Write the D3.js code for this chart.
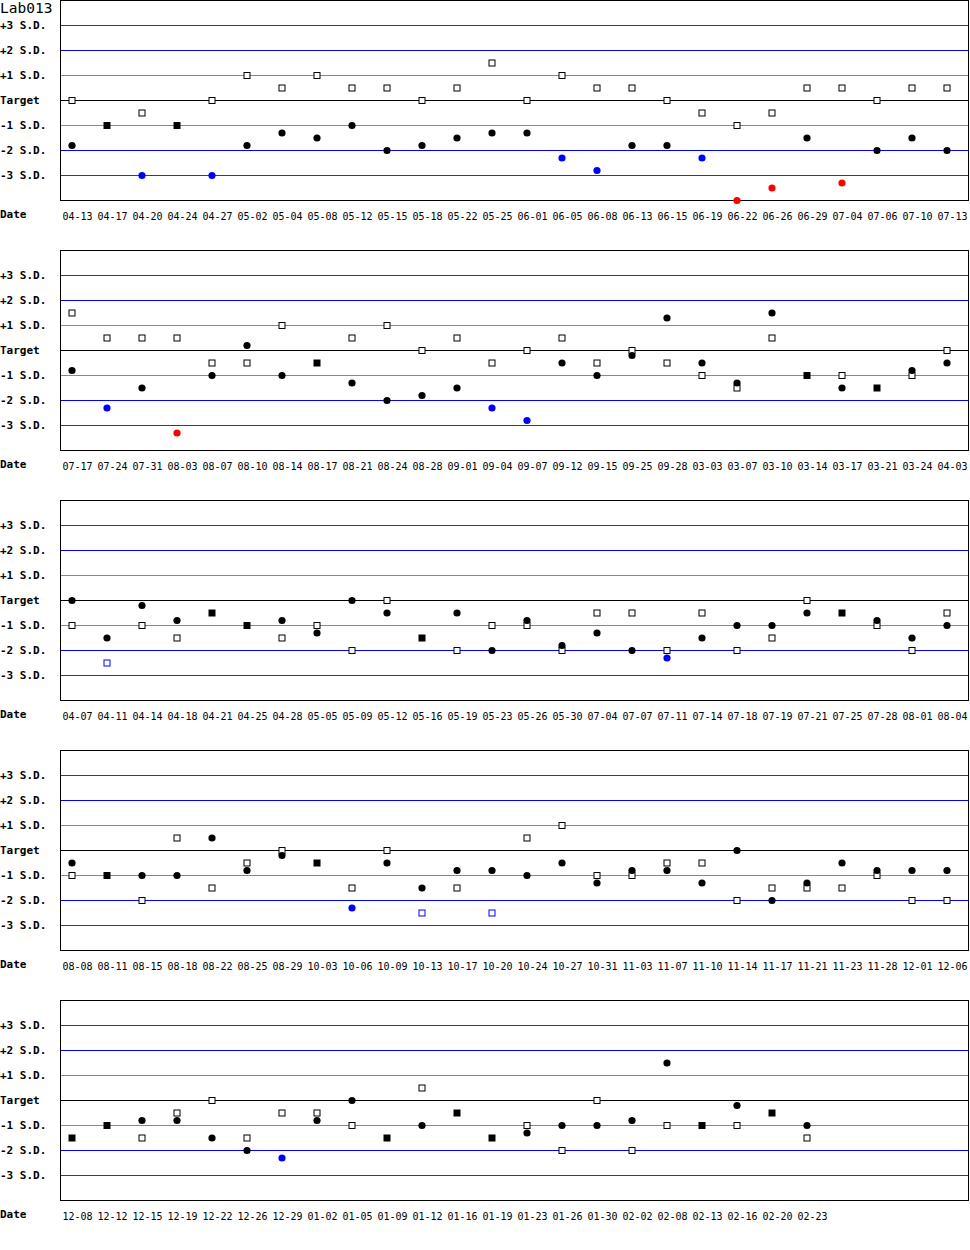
<!DOCTYPE html>
<html>
<head>
<meta charset="utf-8">
<script src="https://cdn.jsdelivr.net/npm/d3@7"></script>
<style>
  body { margin: 0; background: #fff; }
  svg { display: block; }
  text { font-family: "DejaVu Sans Mono", monospace; }
</style>
</head>
<body>
<div id="chart"></div>
<script>
// QC chart data, 26 runs per panel
const title = 'Lab013';
const perPanel = 26;

const dates = [
  '04-13','04-17','04-20','04-24','04-27','05-02','05-04','05-08','05-12','05-15','05-18','05-22','05-25','06-01','06-05','06-08','06-13','06-15','06-19','06-22','06-26','06-29','07-04','07-06','07-10','07-13',
  '07-17','07-24','07-31','08-03','08-07','08-10','08-14','08-17','08-21','08-24','08-28','09-01','09-04','09-07','09-12','09-15','09-25','09-28','03-03','03-07','03-10','03-14','03-17','03-21','03-24','04-03',
  '04-07','04-11','04-14','04-18','04-21','04-25','04-28','05-05','05-09','05-12','05-16','05-19','05-23','05-26','05-30','07-04','07-07','07-11','07-14','07-18','07-19','07-21','07-25','07-28','08-01','08-04',
  '08-08','08-11','08-15','08-18','08-22','08-25','08-29','10-03','10-06','10-09','10-13','10-17','10-20','10-24','10-27','10-31','11-03','11-07','11-10','11-14','11-17','11-21','11-23','11-28','12-01','12-06',
  '12-08','12-12','12-15','12-19','12-22','12-26','12-29','01-02','01-05','01-09','01-12','01-16','01-19','01-23','01-26','01-30','02-02','02-08','02-13','02-16','02-20','02-23'
];

// control level drawn as open squares (in S.D. from target)
const squareSD = [
  0,-1,-0.5,-1,0,1,0.5,1,0.5,0.5,0,0.5,1.5,0,1,0.5,0.5,0,-0.5,-1,-0.5,0.5,0.5,0,0.5,0.5,
  1.5,0.5,0.5,0.5,-0.5,-0.5,1,-0.5,0.5,1,0,0.5,-0.5,0,0.5,-0.5,0,-0.5,-1,-1.5,0.5,-1,-1,-1.5,-1,0,
  -1,-2.5,-1,-1.5,-0.5,-1,-1.5,-1,-2,0,-1.5,-2,-1,-1,-2,-0.5,-0.5,-2,-0.5,-2,-1.5,0,-0.5,-1,-2,-0.5,
  -1,-1,-2,0.5,-1.5,-0.5,0,-0.5,-1.5,0,-2.5,-1.5,-2.5,0.5,1,-1,-1,-0.5,-0.5,-2,-1.5,-1.5,-1.5,-1,-2,-2,
  -1.5,-1,-1.5,-0.5,0,-1.5,-0.5,-0.5,-1,-1.5,0.5,-0.5,-1.5,-1,-2,0,-2,-1,-1,-1,-0.5,-1.5
];

// control level drawn as dots
const dotSD = [
  -1.8,-1,-3,-1,-3,-1.8,-1.3,-1.5,-1,-2,-1.8,-1.5,-1.3,-1.3,-2.3,-2.8,-1.8,-1.8,-2.3,-4,-3.5,-1.5,-3.3,-2,-1.5,-2,
  -0.8,-2.3,-1.5,-3.3,-1,0.2,-1,-0.5,-1.3,-2,-1.8,-1.5,-2.3,-2.8,-0.5,-1,-0.2,1.3,-0.5,-1.3,1.5,-1,-1.5,-1.5,-0.8,-0.5,
  0,-1.5,-0.2,-0.8,-0.5,-1,-0.8,-1.3,0,-0.5,-1.5,-0.5,-2,-0.8,-1.8,-1.3,-2,-2.3,-1.5,-1,-1,-0.5,-0.5,-0.8,-1.5,-1,
  -0.5,-1,-1,-1,0.5,-0.8,-0.2,-0.5,-2.3,-0.5,-1.5,-0.8,-0.8,-1,-0.5,-1.3,-0.8,-0.8,-1.3,0,-2,-1.3,-0.5,-0.8,-0.8,-0.8,
  -1.5,-1,-0.8,-0.8,-1.5,-2,-2.3,-0.8,0,-1.5,-1,-0.5,-1.5,-1.3,-1,-1,-0.8,1.5,-1,-0.2,-0.5,-1
];

const sdLevels = [3, 2, 1, 0, -1, -2, -3];
const sdLabels = ['+3 S.D.', '+2 S.D.', '+1 S.D.', 'Target', '-1 S.D.', '-2 S.D.', '-3 S.D.'];

const W = 970, H = 1250;
const panelStep = 250, plotH = 200;
const left = 60, right = 968;

function lineColor(sd) {
    const a = Math.abs(sd);
    if (a === 3) return '#d40000';
    if (a === 2) return '#0000ff';
    if (a === 1) return '#888888';
    return '#000000';
}

function pointColor(v) {
    const a = Math.abs(v);
    if (a > 3) return '#ff0000';
    if (a > 2) return '#0000ff';
    return '#000000';
}

const svg = d3.select('#chart').append('svg')
    .attr('width', W)
    .attr('height', H);

const yScale = d3.scaleLinear()
    .domain([-4, 4])
    .range([plotH + 0.5, 0.5]);

const nPanels = Math.ceil(dates.length / perPanel);

for (let p = 0; p < nPanels; p++) {
    const start = p * perPanel;
    const rows = d3.range(start, Math.min(start + perPanel, dates.length)).map(i => ({
        date: dates[i], sq: squareSD[i], dot: dotSD[i], k: i - start
    }));

    const xScale = d3.scaleBand()
        .domain(d3.range(perPanel))
        .range([left, left + perPanel * 35]);

    const g = svg.append('g')
        .attr('transform', `translate(0,${p * panelStep})`);

    // S.D. reference lines
    g.selectAll('.sd-line')
        .data(sdLevels)
        .enter().append('line')
        .attr('class', 'sd-line')
        .attr('x1', left)
        .attr('x2', right)
        .attr('y1', d => yScale(d))
        .attr('y2', d => yScale(d))
        .attr('stroke', d => lineColor(d))
        .attr('stroke-width', 1);

    // frame
    g.append('rect')
        .attr('x', left + 0.5)
        .attr('y', yScale(4))
        .attr('width', right - left)
        .attr('height', yScale(-4) - yScale(4))
        .attr('fill', 'none')
        .attr('stroke', '#000')
        .attr('stroke-width', 1);

    // y labels
    g.selectAll('.sd-label')
        .data(sdLevels)
        .enter().append('text')
        .attr('class', 'sd-label')
        .attr('x', 0)
        .attr('y', d => yScale(d) + 3)
        .attr('font-size', '11px')
        .attr('font-weight', 'bold')
        .text((d, i) => sdLabels[i]);

    g.append('text')
        .attr('x', 0)
        .attr('y', plotH + 18)
        .attr('font-size', '11px')
        .attr('font-weight', 'bold')
        .text('Date');

    // date labels
    g.selectAll('.date-label')
        .data(rows)
        .enter().append('text')
        .attr('class', 'date-label')
        .attr('x', d => xScale(d.k) + 2.5)
        .attr('y', plotH + 20)
        .attr('font-size', '10px')
        .text(d => d.date);

    // open squares (both levels equal -> filled square)
    g.selectAll('.sq')
        .data(rows)
        .enter().append('rect')
        .attr('class', 'sq')
        .attr('x', d => xScale(d.k) + 12 - (d.sq === d.dot ? 3.5 : 3))
        .attr('y', d => yScale(d.sq) - (d.sq === d.dot ? 3.5 : 3))
        .attr('width', d => d.sq === d.dot ? 7 : 6)
        .attr('height', d => d.sq === d.dot ? 7 : 6)
        .attr('fill', d => d.sq === d.dot ? pointColor(d.sq) : '#fff')
        .attr('stroke', d => d.sq === d.dot ? 'none' : pointColor(d.sq))
        .attr('stroke-width', 1);

    // dots
    g.selectAll('.dot')
        .data(rows.filter(d => d.sq !== d.dot))
        .enter().append('circle')
        .attr('class', 'dot')
        .attr('cx', d => xScale(d.k) + 12)
        .attr('cy', d => yScale(d.dot))
        .attr('r', 3.6)
        .attr('fill', d => pointColor(d.dot));
}

svg.append('text')
    .attr('x', 0)
    .attr('y', 12.5)
    .attr('font-size', '14.5px')
    .text(title);
</script>
</body>
</html>
